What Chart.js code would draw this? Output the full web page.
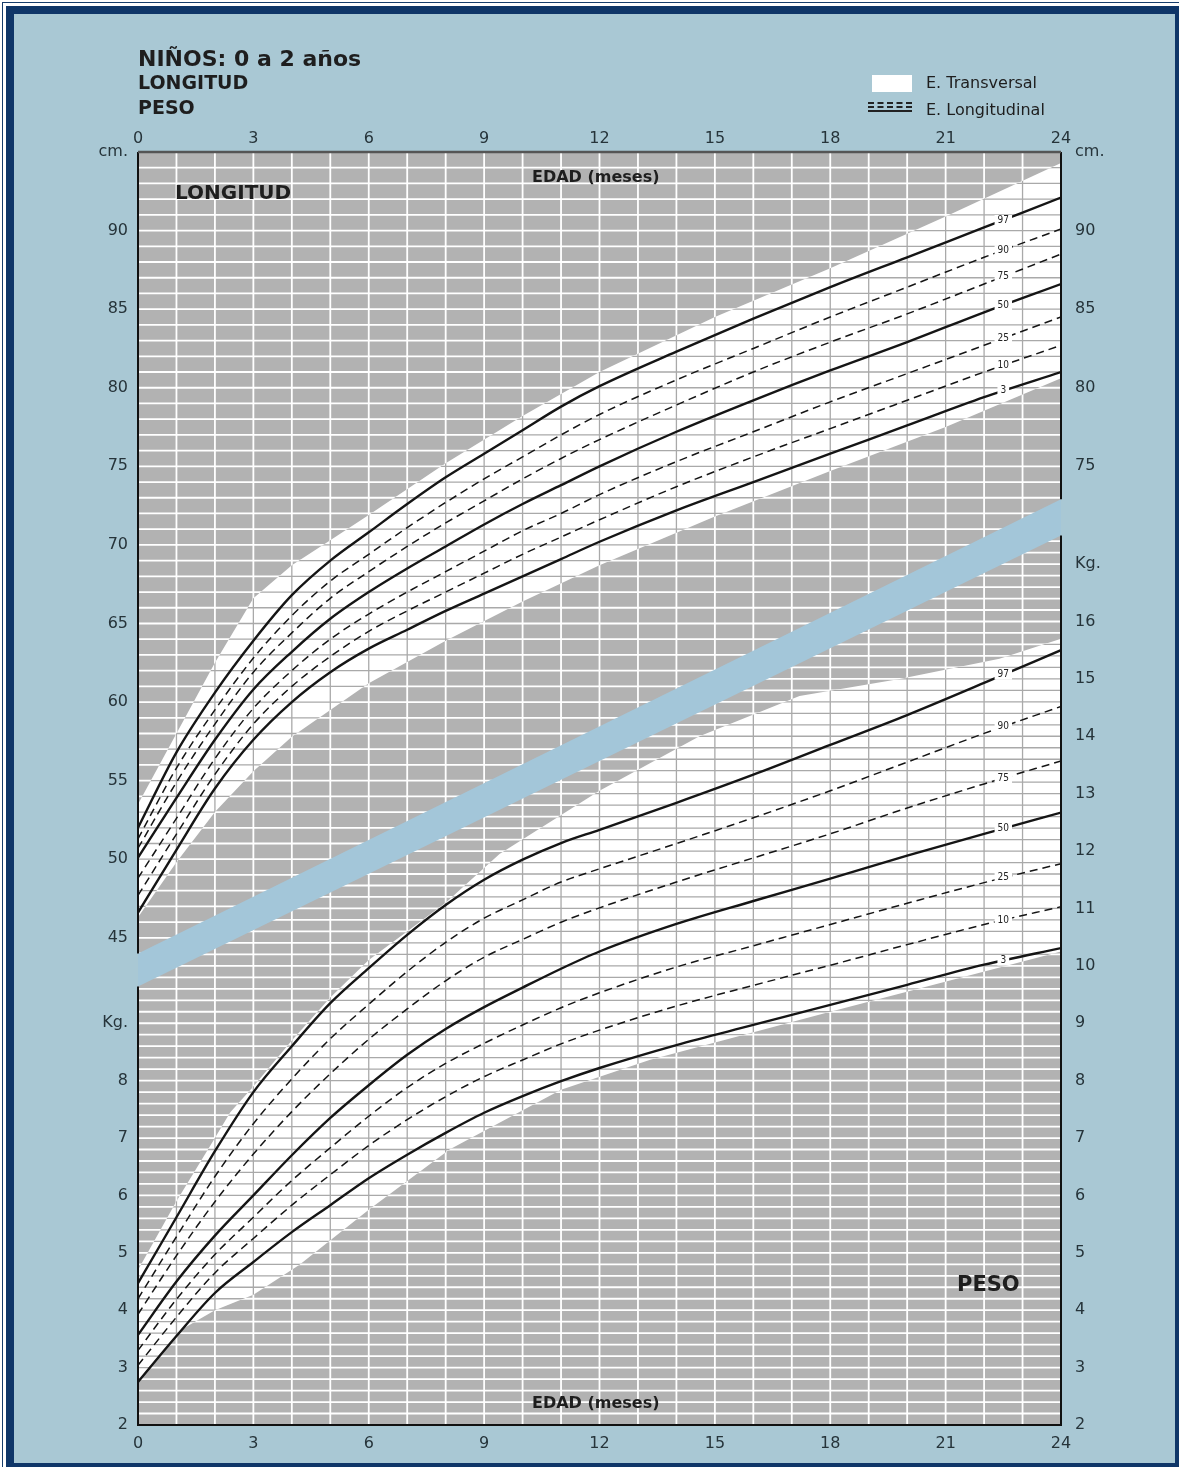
<!DOCTYPE html>
<html><head><meta charset="utf-8">
<script src="https://cdn.jsdelivr.net/npm/chart.js@4/dist/chart.umd.min.js"></script>
<style>
html,body{margin:0;padding:0;background:#fff;width:1179px;height:1467px;overflow:hidden;position:relative;font-family:'DejaVu Sans',sans-serif;}
#o1{position:absolute;left:2px;top:2px;width:1190px;height:1480px;border:1.5px solid #163d6c;}
#o2{position:absolute;left:6px;top:6px;width:1161px;height:1449px;border:8px solid #0f3668;background:#a9c8d4;}
#c{position:absolute;left:0;top:0;z-index:2;}
.t{position:absolute;z-index:3;white-space:nowrap;color:#1e1e1e;line-height:1;}
.b{font-weight:bold;}
</style></head>
<body>
<div id="o1"></div><div id="o2"></div>
<canvas id="c" width="1179" height="1467"></canvas>
<div class="t b" style="left:138px;top:48px;font-size:22px;">NIÑOS: 0 a 2 años</div>
<div class="t b" style="left:138px;top:73px;font-size:19px;">LONGITUD</div>
<div class="t b" style="left:138px;top:98px;font-size:19px;">PESO</div>
<div style="position:absolute;z-index:3;left:872px;top:75px;width:40px;height:17px;background:#fff;"></div>
<div class="t" style="left:926px;top:75px;font-size:16px;">E. Transversal</div>
<div style="position:absolute;z-index:3;left:868px;top:102px;width:44px;height:0;border-top:2px dashed #222;"></div>
<div style="position:absolute;z-index:3;left:868px;top:106px;width:44px;height:0;border-top:2px dashed #222;"></div>
<div style="position:absolute;z-index:3;left:868px;top:110px;width:44px;height:0;border-top:2.5px solid #222;"></div>
<div class="t" style="left:926px;top:102px;font-size:16px;">E. Longitudinal</div>
<div class="t b" style="left:175px;top:182px;font-size:20px;">LONGITUD</div>
<div class="t b" style="left:532px;top:169px;font-size:16px;">EDAD (meses)</div>
<div class="t b" style="left:532px;top:1395px;font-size:16px;">EDAD (meses)</div>
<div class="t b" style="left:957px;top:1274px;font-size:21px;">PESO</div>
<script>
// ---------- DATA ----------
const ages = [0,1,2,3,4,5,6,7,8,9,10,11,12,14,16,18,20,22,24];
// Length (cm)
const lenP97 = [52.0,56.8,60.6,63.9,66.8,69.0,70.8,72.6,74.3,75.8,77.3,78.8,80.1,82.3,84.4,86.4,88.3,90.2,92.1];
const lenP90 = [51.3,55.8,59.5,62.8,65.5,67.7,69.4,71.1,72.7,74.2,75.6,77.0,78.3,80.5,82.5,84.5,86.4,88.3,90.1];
const lenP75 = [50.7,54.9,58.6,61.9,64.4,66.6,68.3,69.9,71.4,72.8,74.2,75.5,76.7,78.9,81.0,82.9,84.7,86.6,88.5];
const lenP50 = [50.1,53.9,57.6,60.8,63.2,65.3,67.0,68.5,69.9,71.3,72.6,73.8,75.0,77.2,79.2,81.1,82.9,84.8,86.6];
const lenP25 = [48.8,52.6,56.4,59.6,62.0,64.0,65.6,67.0,68.3,69.6,70.9,72.0,73.2,75.3,77.2,79.1,80.9,82.7,84.5];
const lenP10 = [47.7,51.6,55.4,58.6,61.0,62.9,64.5,65.8,67.0,68.2,69.4,70.5,71.6,73.7,75.6,77.4,79.2,81.0,82.7];
const lenP3  = [46.6,50.6,54.5,57.6,60.0,61.9,63.4,64.6,65.8,66.9,68.0,69.1,70.2,72.2,74.0,75.8,77.6,79.4,81.0];
// Weight (kg)
const wtP97 = [4.47,5.62,6.77,7.8,8.6,9.35,9.96,10.54,11.06,11.5,11.85,12.14,12.37,12.84,13.33,13.85,14.37,14.93,15.5];
const wtP90 = [4.2,5.28,6.33,7.25,8.03,8.73,9.33,9.9,10.41,10.83,11.15,11.46,11.69,12.13,12.58,13.05,13.55,14.05,14.52];
const wtP75 = [3.93,4.95,5.89,6.72,7.46,8.12,8.72,9.25,9.74,10.15,10.46,10.76,11.01,11.46,11.88,12.3,12.75,13.17,13.57];
const wtP50 = [3.57,4.5,5.3,6.0,6.7,7.35,7.92,8.45,8.9,9.28,9.62,9.95,10.25,10.73,11.13,11.52,11.92,12.3,12.67];
const wtP25 = [3.3,4.19,4.97,5.62,6.26,6.83,7.38,7.88,8.3,8.65,8.97,9.27,9.53,9.98,10.35,10.72,11.09,11.45,11.78];
const wtP10 = [3.04,3.88,4.65,5.25,5.83,6.36,6.87,7.32,7.72,8.07,8.36,8.64,8.88,9.3,9.66,10.01,10.37,10.72,11.03];
const wtP3  = [2.75,3.55,4.3,4.84,5.36,5.83,6.3,6.71,7.09,7.44,7.73,7.99,8.22,8.62,8.97,9.32,9.67,10.02,10.31];
// Transversal study bands (white areas)
const lenBandHiAges = [0,1,2,3,4,5,6,8,10,12,15,18,21,24];
const lenBandHi     = [53.5,58.0,62.5,66.6,68.7,70.3,71.9,75.2,78.2,81.0,84.5,87.6,90.9,94.3];
const lenBandLoAges = [0,1,2,3,4,6,8,10,12,15,18,21,24];
const lenBandLo     = [46.3,49.8,53.0,55.6,57.8,61.2,63.9,66.4,68.7,71.8,74.7,77.5,80.6];
const wtBandHiAges  = [0,1,2,2.4,3,4,5,6,8,9.4,12,14.6,17.2,19.8,22.4,24];
const wtBandHi      = [4.7,5.9,7.0,7.45,7.9,8.7,9.45,10.1,11.1,11.95,13.05,14.0,14.7,15.0,15.35,15.7];
const wtBandLoAges  = [0,1.1,2,3,4.2,6,8.1,11,13.3,18,24];
const wtBandLo      = [2.75,3.65,4.0,4.27,4.79,5.75,6.8,7.84,8.36,9.2,10.25];
// Separator band (length units)
const sepAges = [0,24];
const sepHi = [44.0,72.9];
const sepLo = [41.9,70.6];
// Ticks / labels
const xTicks = [0,3,6,9,12,15,18,21,24];
const lenTicksLeft = [45,50,55,60,65,70,75,80,85,90];
const lenTicksRight = [75,80,85,90];
const wtTicksLeft = [2,3,4,5,6,7,8];
const wtTicksRight = [2,3,4,5,6,7,8,9,10,11,12,13,14,15,16];
const pctNames = ['97','90','75','50','25','10','3'];
const LEN_MIN = 14, LEN_MAX = 95, WT_MIN = 2, WT_MAX = 24.18;
const LABEL_AGE = 22.5;

// ---------- BUILD ----------
const FONT = "'DejaVu Sans', 'Liberation Sans', sans-serif";
const GRAY = '#b2b2b2';
const pts = (xs, ys) => xs.map((a, i) => ({x: a, y: ys[i]}));
const lenSeries = [lenP97, lenP90, lenP75, lenP50, lenP25, lenP10, lenP3];
const wtSeries = [wtP97, wtP90, wtP75, wtP50, wtP25, wtP10, wtP3];
const solid = n => (n === '97' || n === '50' || n === '3');

const datasets = [
  {id:'lenBandHi', data: pts(lenBandHiAges, lenBandHi), yAxisID:'yLen', fill:'+1', backgroundColor:'#ffffff', borderWidth:0, pointRadius:0, tension:0, order:30},
  {id:'lenBandLo', data: pts(lenBandLoAges, lenBandLo), yAxisID:'yLen', fill:false, borderWidth:0, pointRadius:0, tension:0, order:30},
  {id:'wtBandHi', data: pts(wtBandHiAges, wtBandHi), yAxisID:'yWt', fill:'+1', backgroundColor:'#ffffff', borderWidth:0, pointRadius:0, tension:0, order:30},
  {id:'wtBandLo', data: pts(wtBandLoAges, wtBandLo), yAxisID:'yWt', fill:false, borderWidth:0, pointRadius:0, tension:0, order:29},
  {id:'sepHi', data: pts(sepAges, sepHi), yAxisID:'yLen', fill:'+1', backgroundColor:'#a3c6d9', borderWidth:0, pointRadius:0, tension:0, order:20},
  {id:'sepLo', data: pts(sepAges, sepLo), yAxisID:'yLen', fill:false, borderWidth:0, pointRadius:0, tension:0, order:20},
];
lenSeries.forEach((s, i) => datasets.push({
  id:'len'+pctNames[i], pct: pctNames[i], data: pts(ages, s), yAxisID:'yLen', fill:false,
  borderColor:'#151515', borderWidth: solid(pctNames[i]) ? 2.4 : 1.5, borderDash: solid(pctNames[i]) ? [] : [8,5],
  pointRadius:0, tension:0.4, cubicInterpolationMode:'monotone', order:1
}));
wtSeries.forEach((s, i) => datasets.push({
  id:'wt'+pctNames[i], pct: pctNames[i], data: pts(ages, s), yAxisID:'yWt', fill:false,
  borderColor:'#151515', borderWidth: solid(pctNames[i]) ? 2.4 : 1.5, borderDash: solid(pctNames[i]) ? [] : [8,5],
  pointRadius:0, tension:0.4, cubicInterpolationMode:'monotone', order:1
}));
const idxOf = id => datasets.findIndex(d => d.id === id);
function metaPts(chart, id) { return chart.getDatasetMeta(idxOf(id)).data; }

function drawGrid(chart, color, lw) {
  const {ctx, chartArea: a, scales} = chart;
  const sx = scales.x, yl = scales.yLen, yw = scales.yWt;
  const sH = metaPts(chart, 'sepHi'), sL = metaPts(chart, 'sepLo');
  const m0 = (sH[0].y + sL[0].y) / 2, m1 = (sH[sH.length-1].y + sL[sL.length-1].y) / 2;
  ctx.save();
  ctx.strokeStyle = color; ctx.lineWidth = lw;
  ctx.beginPath();
  for (let m = 1; m < 24; m++) { const px = sx.getPixelForValue(m); ctx.moveTo(px, a.top); ctx.lineTo(px, a.bottom); }
  ctx.stroke();
  ctx.save();
  ctx.beginPath(); ctx.moveTo(a.left, a.top); ctx.lineTo(a.right, a.top); ctx.lineTo(a.right, m1); ctx.lineTo(a.left, m0); ctx.closePath(); ctx.clip();
  ctx.beginPath();
  for (let v = LEN_MIN + 1; v < LEN_MAX; v++) { const py = yl.getPixelForValue(v); ctx.moveTo(a.left, py); ctx.lineTo(a.right, py); }
  ctx.stroke();
  ctx.restore();
  ctx.save();
  ctx.beginPath(); ctx.moveTo(a.left, m0); ctx.lineTo(a.right, m1); ctx.lineTo(a.right, a.bottom); ctx.lineTo(a.left, a.bottom); ctx.closePath(); ctx.clip();
  ctx.beginPath();
  for (let k = WT_MIN * 5 + 1; k <= Math.floor(WT_MAX * 5); k++) { const py = yw.getPixelForValue(k / 5); ctx.moveTo(a.left, py); ctx.lineTo(a.right, py); }
  ctx.stroke();
  ctx.restore();
  ctx.restore();
}

function bandPath(ctx, hi, lo) {
  ctx.moveTo(hi[0].x, hi[0].y);
  for (let i = 1; i < hi.length; i++) ctx.lineTo(hi[i].x, hi[i].y);
  for (let i = lo.length - 1; i >= 0; i--) ctx.lineTo(lo[i].x, lo[i].y);
  ctx.closePath();
}

const chartPlugin = {
  id: 'chartDecor',
  beforeDatasetsDraw(chart) {
    const {ctx, chartArea: a} = chart;
    ctx.save();
    ctx.fillStyle = GRAY;
    ctx.fillRect(a.left, a.top, a.right - a.left, a.bottom - a.top);
    ctx.restore();
    drawGrid(chart, '#ffffff', 1.8);
  },
  afterDatasetDraw(chart, args) {
    if (chart.data.datasets[args.index].id !== 'wtBandLo') return;
    const {ctx, chartArea: a} = chart;
    ctx.save();
    ctx.beginPath(); ctx.rect(a.left, a.top, a.right - a.left, a.bottom - a.top); ctx.clip();
    ctx.beginPath();
    bandPath(ctx, metaPts(chart, 'lenBandHi'), metaPts(chart, 'lenBandLo'));
    bandPath(ctx, metaPts(chart, 'wtBandHi'), metaPts(chart, 'wtBandLo'));
    ctx.clip();
    drawGrid(chart, '#a9a9a9', 1.3);
    ctx.restore();
  },
  afterDatasetsDraw(chart) {
    const {ctx, chartArea: a, scales} = chart;
    const sH = metaPts(chart, 'sepHi'), sL = metaPts(chart, 'sepLo');
    ctx.save();
    ctx.lineWidth = 2; ctx.strokeStyle = '#111';
    ctx.beginPath();
    ctx.moveTo(a.left, a.top); ctx.lineTo(a.left, sH[0].y);
    ctx.moveTo(a.left, sL[0].y); ctx.lineTo(a.left, a.bottom); ctx.lineTo(a.right, a.bottom); ctx.lineTo(a.right, sL[sL.length-1].y);
    ctx.moveTo(a.right, sH[sH.length-1].y); ctx.lineTo(a.right, a.top);
    ctx.stroke();
    ctx.strokeStyle = '#555'; ctx.lineWidth = 2.5;
    ctx.beginPath(); ctx.moveTo(a.left, a.top); ctx.lineTo(a.right, a.top); ctx.stroke();
    const tx = scales.x.getPixelForValue(LABEL_AGE);
    ctx.font = "10px 'DejaVu Sans Condensed', 'DejaVu Sans', sans-serif";
    ctx.textAlign = 'center'; ctx.textBaseline = 'middle';
    chart.data.datasets.forEach((ds, i) => {
      if (!ds.pct) return;
      const p = chart.getDatasetMeta(i).data;
      let y = null;
      for (let k = 0; k < p.length - 1; k++) {
        if (p[k].x <= tx && p[k+1].x >= tx) { const f = (tx - p[k].x) / (p[k+1].x - p[k].x); y = p[k].y + f * (p[k+1].y - p[k].y); break; }
      }
      if (y === null) return;
      const w = ctx.measureText(ds.pct).width;
      ctx.fillStyle = '#ffffff';
      ctx.fillRect(tx - w / 2 - 3, y - 5, w + 6, 10);
      ctx.fillStyle = '#222';
      ctx.fillText(ds.pct, tx, y);
    });
    ctx.restore();
  }
};

const tickFont = {family: FONT, size: 16};
const tickColor = '#26343a';
// weight value -> position on the length axis (both axes share the same plot height)
const wtToLen = w => LEN_MIN + (w - WT_MIN) * (LEN_MAX - LEN_MIN) / (WT_MAX - WT_MIN);
function yAxisMerged(pos, lenVals, wtVals, kgAt, width, pad) {
  const vals = [], labels = [];
  lenVals.forEach(v => { vals.push(v); labels.push(String(v)); });
  vals.push(LEN_MAX); labels.push('cm.');
  wtVals.forEach(w => { vals.push(wtToLen(w)); labels.push(String(w)); });
  vals.push(wtToLen(kgAt)); labels.push('Kg.');
  return {
    type:'linear', position: pos, min: LEN_MIN, max: LEN_MAX,
    grid:{display:false, drawTicks:false}, border:{display:false},
    afterBuildTicks: s => { s.ticks = vals.map(v => ({value: v})); },
    ticks:{autoSkip:false, padding: pad, color: tickColor, font: tickFont, callback: (v, i) => labels[i]},
    afterFit: s => { s.width = width; }
  };
}
function xAxis(pos, height, pad) {
  return {
    type:'linear', position: pos, min:0, max:24,
    grid:{display:false, drawTicks:false}, border:{display:false},
    afterBuildTicks: s => { s.ticks = xTicks.map(v => ({value: v})); },
    ticks:{autoSkip:false, maxRotation:0, padding: pad, color: tickColor, font: tickFont, callback: v => String(v)},
    afterFit: s => { s.height = height; }
  };
}

new Chart(document.getElementById('c'), {
  type: 'line',
  data: { datasets },
  options: {
    responsive:false, animation:false, devicePixelRatio:1,
    layout:{padding:0},
    plugins:{legend:{display:false}, tooltip:{enabled:false}},
    elements:{point:{radius:0}},
    scales:{
      x: xAxis('bottom', 42, 9),
      xTop: xAxis('top', 152, 4),
      yLen: yAxisMerged('left', lenTicksLeft, wtTicksLeft, 9, 138, 10),
      yLenR: yAxisMerged('right', lenTicksRight, wtTicksRight, 17, 118, 14),
      yWt: {type:'linear', display:false, min: WT_MIN, max: WT_MAX}
    }
  },
  plugins:[chartPlugin]
});
</script>
</body></html>
